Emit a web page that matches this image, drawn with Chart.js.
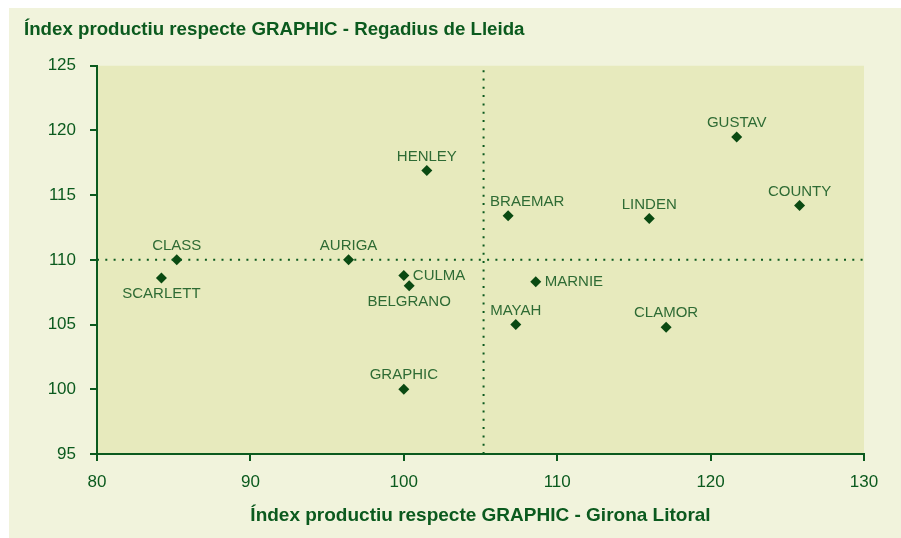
<!DOCTYPE html>
<html>
<head>
<meta charset="utf-8">
<script src="https://cdn.jsdelivr.net/npm/chart.js@4/dist/chart.umd.min.js"></script>
<style>
  html, body { margin: 0; padding: 0; background: #ffffff; }
  #wrap { width: 901px; height: 538px; }
</style>
</head>
<body>
<div id="wrap"><canvas id="chart" width="901" height="538"></canvas></div>
<script>
// Varietats i índexs (GRAPHIC = 100)
const varieties = ["CLASS", "SCARLETT", "AURIGA", "CULMA", "BELGRANO", "GRAPHIC", "HENLEY",
  "BRAEMAR", "LINDEN", "GUSTAV", "COUNTY", "MARNIE", "MAYAH", "CLAMOR"];
const gironaIndex = [85.2, 84.2, 96.4, 100.0, 100.35, 100.0, 101.5,
  106.8, 116.0, 121.7, 125.8, 108.6, 107.3, 117.1];
const lleidaIndex = [110.0, 108.6, 110.0, 108.8, 108.0, 100.0, 116.9,
  113.4, 113.2, 119.5, 114.2, 108.3, 105.0, 104.8];
// on va cada etiqueta respecte el punt
const labelPlace = ["top", "bottom", "top", "right", "bottom", "top", "top",
  "topright", "top", "top", "top", "right", "top", "top"];

// línies de referència (mitjanes)
const refGirona = 105.2;
const refLleida = 110;

const xTicks = [80, 90, 100, 110, 120, 130];
const yTicks = [95, 100, 105, 110, 115, 120, 125];

const titleY = "Índex productiu respecte GRAPHIC - Regadius de Lleida";
const titleX = "Índex productiu respecte GRAPHIC - Girona Litoral";

const darkGreen = "#0b5a1e";
const markGreen = "#0a4a12";
const labelGreen = "#2e6b34";
const fontFamily = "'Liberation Sans', Arial, sans-serif";

const points = varieties.map((v, i) => ({ x: gironaIndex[i], y: lleidaIndex[i] }));

const background = {
  id: "background",
  beforeDraw: (chart) => {
    const { ctx, chartArea: a } = chart;
    ctx.save();
    ctx.fillStyle = "#ffffff";
    ctx.fillRect(0, 0, chart.width, chart.height);
    ctx.fillStyle = "#f1f3dc";
    ctx.fillRect(9, 8, chart.width - 9, chart.height - 8);
    ctx.fillStyle = "#e7eabd";
    ctx.fillRect(a.left, a.top, a.right - a.left, a.bottom - a.top);
    ctx.restore();
  },
};

const pointLabels = {
  id: "pointLabels",
  afterDatasetsDraw: (chart) => {
    const ctx = chart.ctx;
    const meta = chart.getDatasetMeta(2);
    ctx.save();
    ctx.font = "15px " + fontFamily;
    ctx.fillStyle = labelGreen;
    ctx.textBaseline = "middle";
    meta.data.forEach((el, i) => {
      const place = labelPlace[i];
      let x = el.x, y = el.y;
      if (place === "top") { ctx.textAlign = "center"; y -= 14; }
      else if (place === "bottom") { ctx.textAlign = "center"; y += 16; }
      else if (place === "right") { ctx.textAlign = "left"; x += 9; }
      else if (place === "topright") { ctx.textAlign = "left"; x -= 18; y -= 14; }
      ctx.fillText(varieties[i], x, y);
    });
    ctx.restore();
  },
};

const dotted = {
  borderColor: darkGreen,
  borderWidth: 2,
  borderDash: [2, 6.3],
  pointRadius: 0,
  showLine: true,
  fill: false,
};

new Chart(document.getElementById("chart"), {
  type: "scatter",
  data: {
    datasets: [
      Object.assign({ data: [{ x: xTicks[0], y: refLleida }, { x: xTicks[xTicks.length - 1], y: refLleida }] }, dotted),
      Object.assign({ data: [{ x: refGirona, y: yTicks[0] }, { x: refGirona, y: yTicks[yTicks.length - 1] }] }, dotted),
      {
        data: points,
        pointStyle: "rectRot",
        pointRadius: 5.5,
        pointBackgroundColor: markGreen,
        pointBorderColor: markGreen,
        pointBorderWidth: 0,
      },
    ],
  },
  options: {
    responsive: false,
    animation: false,
    layout: { padding: { left: 24, right: 37, top: 0, bottom: 0 } },
    plugins: {
      legend: { display: false },
      tooltip: { enabled: false },
      title: {
        display: true,
        text: titleY,
        align: "start",
        color: darkGreen,
        font: { family: fontFamily, size: 18.7, weight: "bold" },
        padding: { top: 18.8, bottom: 24.5 },
      },
    },
    scales: {
      x: {
        type: "linear",
        min: xTicks[0],
        max: xTicks[xTicks.length - 1],
        afterBuildTicks: (s) => { s.ticks = xTicks.map((v) => ({ value: v })); },
        afterFit: (s) => { s.height = 84; },
        border: { display: true, color: darkGreen, width: 2 },
        grid: { drawOnChartArea: false, drawTicks: true, tickLength: 7, color: darkGreen, lineWidth: 2 },
        ticks: {
          color: darkGreen,
          padding: 11,
          maxRotation: 0,
          font: { family: fontFamily, size: 17 },
        },
        title: {
          display: true,
          text: titleX,
          color: darkGreen,
          font: { family: fontFamily, size: 19, weight: "bold" },
          padding: { top: 0, bottom: 10.5 },
        },
      },
      y: {
        type: "linear",
        min: yTicks[0],
        max: yTicks[yTicks.length - 1],
        afterBuildTicks: (s) => { s.ticks = yTicks.map((v) => ({ value: v })); },
        afterFit: (s) => { s.width = 73; },
        border: { display: true, color: darkGreen, width: 2 },
        grid: { drawOnChartArea: false, drawTicks: true, tickLength: 7, color: darkGreen, lineWidth: 2 },
        ticks: {
          color: darkGreen,
          padding: 14,
          font: { family: fontFamily, size: 17 },
        },
      },
    },
  },
  plugins: [background, pointLabels],
});
</script>
</body>
</html>
